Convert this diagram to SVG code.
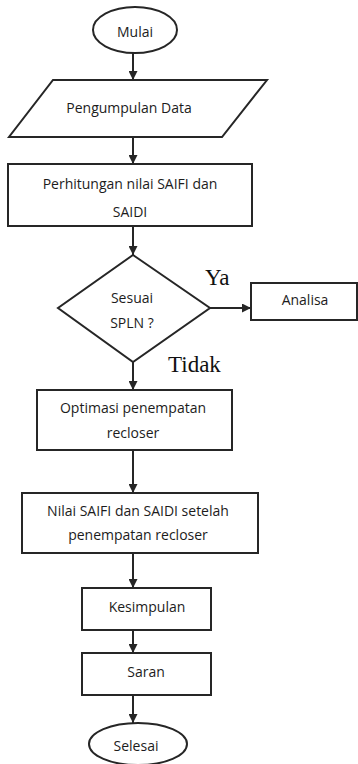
<svg xmlns="http://www.w3.org/2000/svg" width="358" height="764" viewBox="0 0 358 764">
<defs>
<style>
.sh{fill:#fff;stroke:#262626;stroke-width:2}
.t{font-family:"Open Sans","Liberation Sans",sans-serif;font-size:14px;fill:#1c1c1c;text-anchor:middle}
.s{font-family:"Liberation Serif","Times New Roman",serif;font-size:23px;fill:#111}
.c{fill:none;stroke:#262626;stroke-width:2;marker-end:url(#ah)}
</style>
<marker id="ah" viewBox="0 0 10 10" refX="10" refY="5" markerWidth="4.5" markerHeight="4.5" markerUnits="strokeWidth" orient="auto">
<path d="M0,0 L10,5 L0,10 Z" fill="#262626"/>
</marker>
</defs>
<rect width="358" height="764" fill="#fff"/>
<g id="connectors">
<line class="c" x1="133" y1="53" x2="133" y2="80"/>
<line class="c" x1="133" y1="137" x2="133" y2="164"/>
<line class="c" x1="133" y1="226" x2="133" y2="255"/>
<line class="c" x1="210" y1="308" x2="251" y2="308"/>
<line class="c" x1="133" y1="362" x2="133" y2="390"/>
<line class="c" x1="133" y1="450" x2="133" y2="493"/>
<line class="c" x1="133" y1="553" x2="133" y2="588"/>
<line class="c" x1="133" y1="630" x2="133" y2="653"/>
<line class="c" x1="133" y1="695" x2="133" y2="723"/>
<text class="s" x="205" y="285">Ya</text>
<text class="s" x="168" y="372">Tidak</text>
</g>
<g id="mulai">
<ellipse class="sh" cx="135" cy="30" rx="42" ry="23"/>
<text class="t" x="135" y="37">Mulai</text>
</g>
<g id="pengumpulan">
<polygon class="sh" points="53,80 267,80 222,137 9,137"/>
<text class="t" x="129" y="113">Pengumpulan  Data</text>
</g>
<g id="perhitungan">
<rect class="sh" x="8" y="164" width="244" height="62"/>
<text class="t" x="130" y="189">Perhitungan nilai SAIFI dan</text>
<text class="t" x="130" y="217">SAIDI</text>
</g>
<g id="sesuai">
<polygon class="sh" points="133,255 210,308 133,362 58,308"/>
<text class="t" x="132" y="303">Sesuai</text>
<text class="t" x="132" y="328">SPLN ?</text>
</g>
<g id="analisa">
<rect class="sh" x="251" y="283" width="106" height="37"/>
<text class="t" x="305" y="305">Analisa</text>
</g>
<g id="optimasi">
<rect class="sh" x="37" y="390" width="195" height="60"/>
<text class="t" x="133" y="413">Optimasi penempatan</text>
<text class="t" x="133" y="438">recloser</text>
</g>
<g id="nilai">
<rect class="sh" x="22" y="493" width="236" height="60"/>
<text class="t" x="138" y="516">Nilai SAIFI dan SAIDI setelah</text>
<text class="t" x="138" y="540">penempatan recloser</text>
</g>
<g id="kesimpulan">
<rect class="sh" x="82" y="588" width="129" height="42"/>
<text class="t" x="147" y="612">Kesimpulan</text>
</g>
<g id="saran">
<rect class="sh" x="82" y="653" width="129" height="42"/>
<text class="t" x="146" y="677">Saran</text>
</g>
<g id="selesai">
<ellipse class="sh" cx="138" cy="744" rx="49" ry="21"/>
<text class="t" x="136" y="751">Selesai</text>
</g>
</svg>
